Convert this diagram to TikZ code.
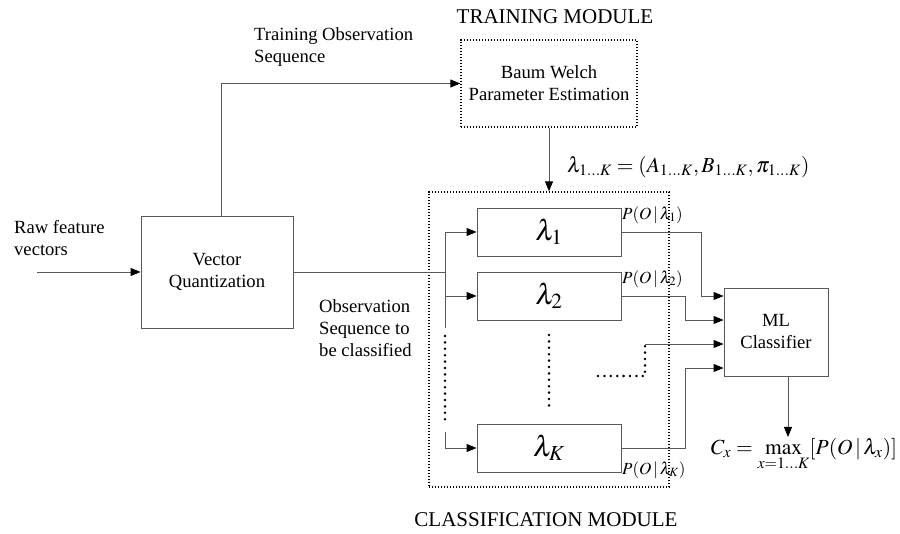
\documentclass[tikz,border=0pt]{standalone}
\usepackage{mathptmx}
\usepackage[no-math]{fontspec}
\setmainfont{Liberation Serif}
\usetikzlibrary{arrows.meta}

\tikzset{
  line/.style={draw=black!65, line width=0.9pt},
  arr/.style={line, -{Triangle[length=10pt,width=8pt,color=black]}},
  blk/.style={line, align=center, font=\fontsize{18.6}{22}\selectfont},
  dotbox/.style={draw=black, line width=1.3pt, dash pattern=on 1.3pt off 1.7pt},
  lam/.style={line, minimum width=144pt, minimum height=48pt, font=\fontsize{29}{32}\selectfont},
  bigdots/.style={draw=black, line width=2.8pt, line cap=round, dash pattern=on 0pt off 6.4pt},
  txt/.style={align=left, inner sep=0pt, font=\fontsize{18.6}{22}\selectfont},
  eqn/.style={inner sep=1pt, font=\fontsize{21.5}{26}\selectfont},
  prob/.style={inner sep=0pt, font=\fontsize{17}{20}\selectfont}
}

\begin{document}
\begin{tikzpicture}[x=1pt,y=-1pt]
\useasboundingbox (0,0) rectangle (900,534);

% blocks
\node[blk, minimum width=152pt, minimum height=112pt] (vq) at (217,272) {Vector\\Quantization};
\node[blk, dotbox, minimum width=176pt, minimum height=87pt] (bw) at (549,83.5) {Baum Welch\\Parameter Estimation};
\node[dotbox, minimum width=240pt, minimum height=295pt] (cls) at (549,339.5) {};
\node[lam] (l1) at (549,232) {$\lambda_1$};
\node[lam] (l2) at (549,296) {$\lambda_2$};
\node[lam] (lK) at (549,448) {$\lambda_K$};
\node[blk, minimum width=104pt, minimum height=88pt] (ml) at (776,332) {ML\\Classifier};

% texts
\node[txt, font=\fontsize{21}{24}\selectfont] (trmod) at (555,17) {TRAINING MODULE};
\node[txt, font=\fontsize{21}{24}\selectfont] (clmod) at (546,520) {CLASSIFICATION MODULE};
\node[txt, anchor=west] (raw) at (14,238) {Raw feature\\vectors};
\node[txt, anchor=west] (trseq) at (254,47) {Training Observation\\Sequence};
\node[txt, anchor=west] (obseq) at (319,328) {Observation\\Sequence to\\be classified};
\node[eqn, anchor=west] (params) at (566,167) {$\lambda_{1\ldots K}=(A_{1\ldots K},B_{1\ldots K},\pi_{1\ldots K})$};
\node[prob, anchor=west] (p1) at (622,215) {$P(O\,|\,\lambda_1)$};
\node[prob, anchor=west] (p2) at (622,279) {$P(O\,|\,\lambda_2)$};
\node[prob, anchor=west] (pK) at (622,470) {$P(O\,|\,\lambda_K)$};
\node[eqn, anchor=north] (cx) at (804,437) {$C_x=\max\limits_{x=1\ldots K}[P(O\,|\,\lambda_x)]$};

% helper points
\coordinate (rawin) at (37,272);
\coordinate (fork) at (445,272);
\coordinate (forkend) at (445,328);
\coordinate (dtop) at (445,336);
\coordinate (dbot) at (445,420);
\coordinate (kstart) at (445,432);
\coordinate (mtop) at (549,335);
\coordinate (mbot) at (549,407);
\coordinate (dots) at (598,376);
\coordinate (dotc) at (645,344);
\coordinate (in1) at ([yshift=36pt]ml.west);
\coordinate (in2) at ([yshift=12pt]ml.west);
\coordinate (in3) at ([yshift=-12pt]ml.west);
\coordinate (in4) at ([yshift=-36pt]ml.west);

% connectors
\draw[arr] (rawin) -- (vq.west);
\draw[arr] ([xshift=4pt]vq.north) |- (bw.west);
\draw[arr] (bw.south) -- (cls.north);
\draw[line] (vq.east) -- (fork);
\draw[arr] (fork) |- (l1.west);
\draw[arr] (fork) |- (l2.west);
\draw[line] (fork) -- (forkend);
\draw[bigdots] (dtop) -- (dbot);
\draw[arr] (kstart) |- (lK.west);
\draw[bigdots] (mtop) -- (mbot);
\draw[arr] (l1.east) -- +(80,0) |- (in1);
\draw[arr] (l2.east) -- +(64,0) |- (in2);
\draw[arr] (lK.east) -- +(64,0) |- (in4);
\draw[bigdots] (dots) -| (dotc);
\draw[arr] (dotc) -- (in3);
\draw[arr] ([xshift=12pt]ml.south) -- ([xshift=12pt]ml.south |- cx.north);
\end{tikzpicture}
\end{document}
